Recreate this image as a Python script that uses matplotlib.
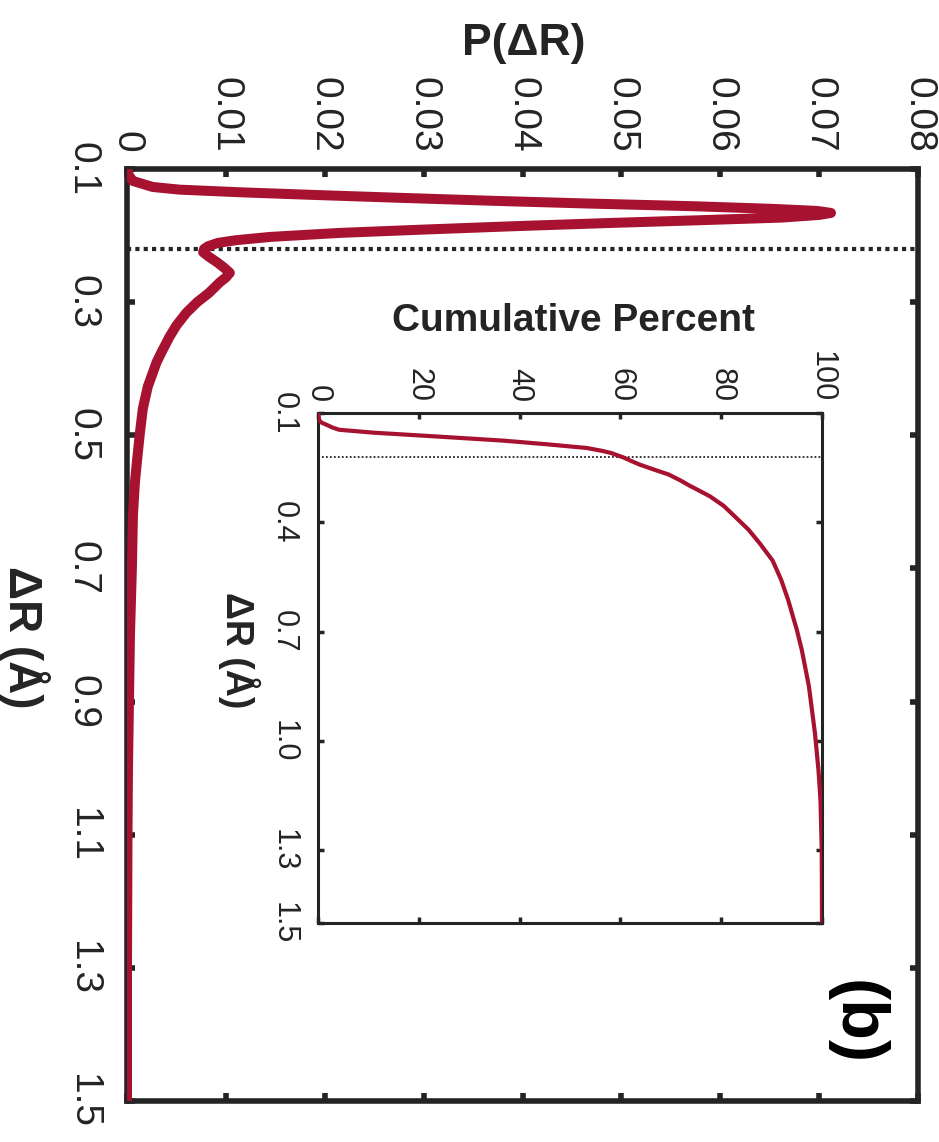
import matplotlib
matplotlib.use("Agg")
import matplotlib.pyplot as plt

plt.rcParams['font.family'] = ['Liberation Sans', 'DejaVu Sans']

# distribution of displacement, read per bin
dR = [0.100, 0.110, 0.118, 0.127, 0.131, 0.135, 0.139, 0.143, 0.148, 0.152,
      0.156, 0.160, 0.163, 0.166, 0.169, 0.173, 0.177, 0.181, 0.186, 0.191,
      0.196, 0.202, 0.207, 0.211, 0.216, 0.220, 0.225, 0.232, 0.240, 0.248,
      0.256, 0.263, 0.270, 0.286, 0.300, 0.316, 0.335, 0.352, 0.372, 0.390,
      0.427, 0.460, 0.497, 0.540, 0.571, 0.620, 0.697, 0.800, 0.900, 1.000,
      1.100, 1.300, 1.500]
P = [0.0000, 0.0002, 0.0006, 0.0026, 0.0053, 0.0115, 0.0190, 0.0270, 0.0375, 0.0470,
     0.0575, 0.0655, 0.0698, 0.0712, 0.0700, 0.0662, 0.0578, 0.0490, 0.0390, 0.0300,
     0.0215, 0.0145, 0.0110, 0.0092, 0.0082, 0.0078, 0.0077, 0.0083, 0.0091, 0.0098,
     0.0104, 0.0100, 0.0094, 0.0083, 0.0071, 0.0060, 0.0050, 0.0043, 0.0036, 0.0030,
     0.0021, 0.0016, 0.0013, 0.0010, 0.0008, 0.0006, 0.0005, 0.0003, 0.0002, 0.0001,
     0.00005, 0.0000, 0.0000]

# cumulative percent for the inset
dR_cum = [0.100, 0.122, 0.127, 0.133, 0.140, 0.146, 0.154, 0.162, 0.170, 0.176,
          0.186, 0.196, 0.204, 0.210, 0.216, 0.222, 0.232, 0.242, 0.255, 0.269,
          0.285, 0.300, 0.315, 0.329, 0.355, 0.384, 0.420, 0.457, 0.505, 0.558,
          0.614, 0.695, 0.751, 0.850, 0.979, 1.080, 1.163, 1.300, 1.500]
cum = [0.0, 0.3, 0.8, 1.8, 2.9, 4.2, 11.0, 20.6, 30.0, 36.9,
       45.5, 53.3, 56.4, 58.2, 59.4, 60.6, 62.2, 63.9, 66.6, 69.6,
       71.9, 73.8, 75.9, 77.8, 80.5, 82.7, 85.4, 87.6, 90.2, 91.9,
       93.3, 95.0, 96.0, 97.4, 98.6, 99.3, 99.7, 99.95, 100.0]

cutoff = 0.22
main_ticks = [0.1, 0.3, 0.5, 0.7, 0.9, 1.1, 1.3, 1.5]
p_ticks = [0, 0.01, 0.02, 0.03, 0.04, 0.05, 0.06, 0.07, 0.08]
p_labels = ['0', '0.01', '0.02', '0.03', '0.04', '0.05', '0.06', '0.07', '0.08']
inset_ticks = [0.1, 0.4, 0.7, 1.0, 1.3, 1.5]
pct_ticks = [0, 20, 40, 60, 80, 100]

red = '#a6122f'
ink = '#242424'

W, H = 939, 1142
fig = plt.figure(figsize=(W / 100, H / 100), dpi=100)


def box(l, t, r, b):
    return [l / W, 1 - b / H, (r - l) / W, (b - t) / H]


# main panel, drawn turned on its side
ax = fig.add_axes(box(127, 169, 918, 1101))
ax.plot(P, dR, color=red, lw=7.2, solid_capstyle='round', solid_joinstyle='round', zorder=3)
ax.axhline(cutoff, color=ink, lw=3, linestyle=(0, (1, 1)), zorder=2)
ax.set_xlim(0, 0.08)
ax.set_ylim(1.5, 0.1)
ax.set_xticks(p_ticks)
ax.set_xticklabels(p_labels)
ax.set_yticks(main_ticks)
ax.set_yticklabels(['%.1f' % t for t in main_ticks])
ax.tick_params(axis='both', direction='in', length=6, width=4, color=ink,
               labelcolor=ink, labelsize=28, top=True, bottom=True, left=True, right=True,
               labeltop=True, labelbottom=False)
ax.tick_params(axis='x', pad=12, labelrotation=-90)
ax.tick_params(axis='y', pad=19, labelrotation=-90)
for sp in ax.spines.values():
    sp.set_linewidth(4)
    sp.set_color(ink)
for lab in ax.get_yticklabels():
    lab.set_va('center')

fig.text(524 / W, 1 - 43 / H, 'P(ΔR)', fontsize=32, fontweight='bold', color=ink,
         ha='center', va='center')
fig.text(24 / W, 1 - 637 / H, 'ΔR (Å)', fontsize=33, fontweight='bold', color=ink,
         ha='center', va='center', rotation=-90)
fig.text(856 / W, 1 - 1023 / H, '(b)', fontsize=48, fontweight='bold', color='black',
         ha='center', va='center', rotation=-90)

# inset with the cumulative curve
ins = fig.add_axes(box(318, 413, 822, 923))
ins.plot(cum, dR_cum, color=red, lw=3, zorder=3)
ins.axhline(cutoff, color=ink, lw=1.3, linestyle=(0, (1, 1.2)), zorder=2)
ins.set_xlim(0, 100)
ins.set_ylim(1.5, 0.1)
ins.set_xticks(pct_ticks)
ins.set_yticks(inset_ticks)
ins.set_yticklabels(['%.1f' % t for t in inset_ticks])
ins.tick_params(axis='both', direction='in', length=4, width=2.5, color=ink,
                labelcolor=ink, labelsize=22, top=True, bottom=True, left=True, right=True,
                labeltop=True, labelbottom=False)
ins.tick_params(axis='x', pad=8, labelrotation=-90)
ins.tick_params(axis='y', pad=14, labelrotation=-90)
for sp in ins.spines.values():
    sp.set_linewidth(2.2)
    sp.set_color(ink)
for lab in ins.get_yticklabels():
    lab.set_va('center')

fig.text(573 / W, 1 - 321 / H, 'Cumulative Percent', fontsize=28, fontweight='bold',
         color=ink, ha='center', va='center')
fig.text(239 / W, 1 - 650 / H, 'ΔR (Å)', fontsize=27, fontweight='bold', color=ink,
         ha='center', va='center', rotation=-90)

fig.savefig('out.png', dpi=100)
